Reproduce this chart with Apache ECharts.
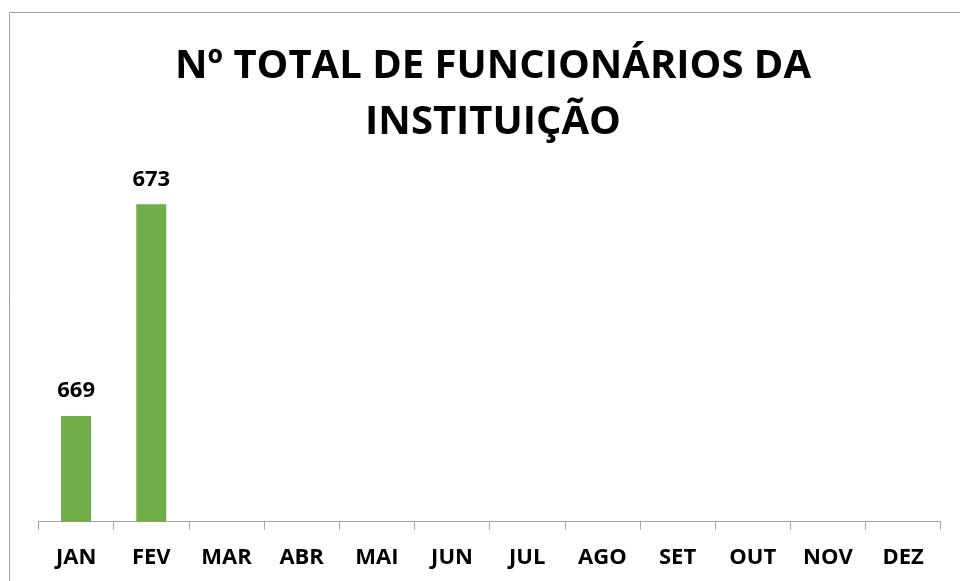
<!DOCTYPE html>
<html>
<head>
<meta charset="utf-8">
<script src="https://cdn.jsdelivr.net/npm/echarts@6/dist/echarts.min.js"></script>
<style>
html,body{margin:0;padding:0;background:#fff;}
#c{width:960px;height:581px;}
</style>
</head>
<body>
<div id="c"></div>
<script>
const titleText = 'Nº TOTAL DE FUNCIONÁRIOS DA\nINSTITUIÇÃO';
const months = ['JAN','FEV','MAR','ABR','MAI','JUN','JUL','AGO','SET','OUT','NOV','DEZ'];
const employees = [669, 673, null, null, null, null, null, null, null, null, null, null];
const yMin = 667;
const yMax = 674;

const FONT = '"Open Sans", Lato, sans-serif';
const chart = echarts.init(document.getElementById('c'), null, {renderer:'canvas'});
chart.setOption({
  animation:false,
  backgroundColor:'#ffffff',
  graphic:[{
    type:'rect', silent:true,
    shape:{x:9.5, y:12.5, width:980, height:600},
    style:{fill:'none', stroke:'#a0a0a0', lineWidth:1}
  }],
  title:{
    text:titleText,
    left:488, textAlign:'center', top:33,
    textStyle:{fontFamily:FONT, fontWeight:'bold', fontSize:40, color:'#000', lineHeight:56.6}
  },
  grid:{left:38.5, right:19.3, top:151.4, bottom:59.3, containLabel:false},
  xAxis:{
    type:'category', data:months,
    axisLine:{lineStyle:{color:'#a6a6a6', width:1}},
    axisTick:{show:true, length:8, lineStyle:{color:'#a6a6a6'}},
    axisLabel:{fontFamily:FONT, fontWeight:'bold', fontSize:22, color:'#000', margin:25}
  },
  yAxis:{
    type:'value', min:yMin, max:yMax, interval:1,
    show:false, splitLine:{show:false}
  },
  series:[{
    type:'bar', data:employees, barWidth:30,
    itemStyle:{color:'#70ad47'},
    label:{show:true, position:'top', distance:14, fontFamily:FONT, fontWeight:'bold', fontSize:22, color:'#000'}
  }]
});
</script>
</body>
</html>
